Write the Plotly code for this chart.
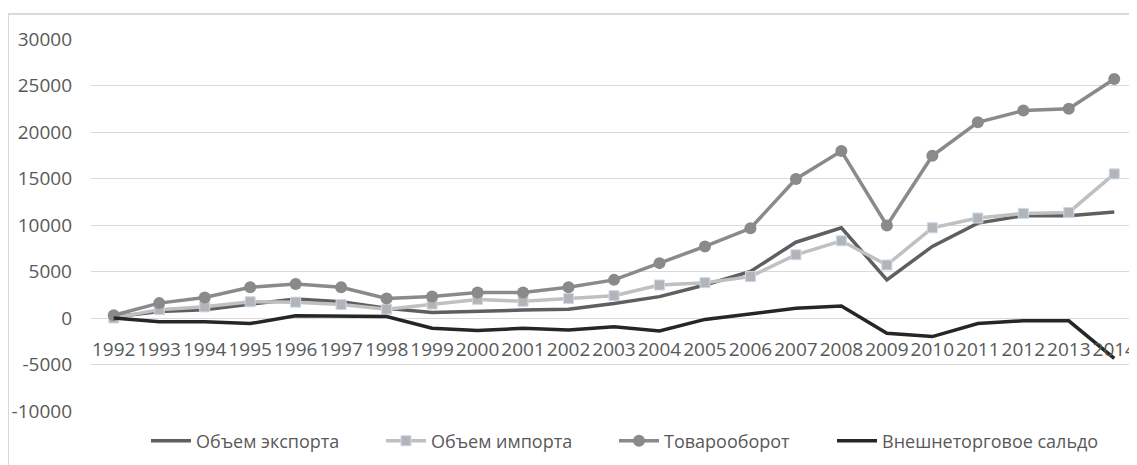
import plotly.graph_objects as go

years = [str(y) for y in range(1992, 2015)]

# values
export_vol = [100, 700, 900, 1500, 2050, 1750, 1050, 600, 750, 850, 950, 1550,
              2300, 3550, 5000, 8150, 9700, 4100, 7700, 10200, 11000, 11000, 11400]
import_vol = [0, 900, 1200, 1750, 1700, 1450, 950, 1500, 2000, 1800, 2100, 2400,
              3550, 3800, 4450, 6800, 8300, 5700, 9700, 10750, 11250, 11350, 15500]
turnover = [300, 1600, 2200, 3300, 3650, 3300, 2100, 2300, 2750, 2750, 3300, 4100,
            5900, 7700, 9650, 14950, 17950, 9950, 17450, 21050, 22300, 22500, 25700]
balance = [0, -400, -400, -600, 250, 200, 150, -1100, -1350, -1100, -1300, -950,
           -1400, -150, 450, 1050, 1300, -1650, -2000, -600, -300, -300, -4350]

y_ticks = [-10000, -5000, 0, 5000, 10000, 15000, 20000, 25000, 30000]
y_labels = ["-10000", "-5000", "0", "5000", "10000", "15000", "20000", "25000", "30000"]

# the page body has an 8px margin, so the figure is a bit smaller than the window
OFF = 8
W, H = 1137 - OFF, 465 - OFF
ML, MR, MT, MB = 91 - OFF, 0, 39 - OFF, 54
plot_w = W - ML - MR
plot_h = H - MT - MB

font_axis = dict(family="Open Sans", size=19, color="#595959")
font_leg = dict(family="Open Sans", size=18, color="#595959")


def px_x(px):
    # page pixel -> paper x
    return (px - OFF - ML) / plot_w


def px_y(py):
    # page pixel -> paper y
    return (H - MB - (py - OFF)) / plot_h


fig = go.Figure()

fig.add_trace(go.Scatter(
    x=years, y=export_vol, name="Объем экспорта", mode="lines",
    line=dict(color="#5f5f5f", width=3.5), legend="legend"))

fig.add_trace(go.Scatter(
    x=years, y=import_vol, name="Объем импорта", mode="lines+markers",
    line=dict(color="#c0c0c0", width=3.5),
    marker=dict(symbol="square", size=10, color="#b4b4b4",
                line=dict(color="#c6d9f1", width=1)), legend="legend2"))

fig.add_trace(go.Scatter(
    x=years, y=turnover, name="Товарооборот", mode="lines+markers",
    line=dict(color="#8a8a8a", width=3.5),
    marker=dict(symbol="circle", size=12, color="#8a8a8a"), legend="legend3"))

fig.add_trace(go.Scatter(
    x=years, y=balance, name="Внешнеторговое сальдо", mode="lines",
    line=dict(color="#262626", width=3.5), legend="legend4"))

# light outer border of the chart area
fig.add_shape(type="rect", xref="paper", yref="paper",
              x0=px_x(8), x1=px_x(1145), y0=px_y(470), y1=px_y(14),
              line=dict(color="#d9d9d9", width=2), layer="below")


def leg(px):
    return dict(orientation="h", x=px_x(px), xanchor="left",
                y=px_y(441), yanchor="middle", font=font_leg,
                bgcolor="rgba(0,0,0,0)", itemwidth=40)


fig.update_layout(
    width=W, height=H,
    margin=dict(l=ML, r=MR, t=MT, b=MB, autoexpand=False),
    paper_bgcolor="white", plot_bgcolor="white",
    showlegend=True,
    legend=leg(146), legend2=leg(381), legend3=leg(614), legend4=leg(832),
    xaxis=dict(type="category", range=[-0.5, 22.5], tickangle=0,
               tickfont=font_axis, showgrid=False, showline=False, ticks="",
               automargin=False, anchor="free", position=px_y(336)),
    yaxis=dict(range=[-10000, 30000], tickvals=y_ticks, ticktext=y_labels,
               tickfont=font_axis, automargin=False,
               showgrid=True, gridcolor="#d9d9d9", gridwidth=1,
               zeroline=False, showline=False, ticks="", ticklabelstandoff=18),
)

fig.write_html("out.html")
